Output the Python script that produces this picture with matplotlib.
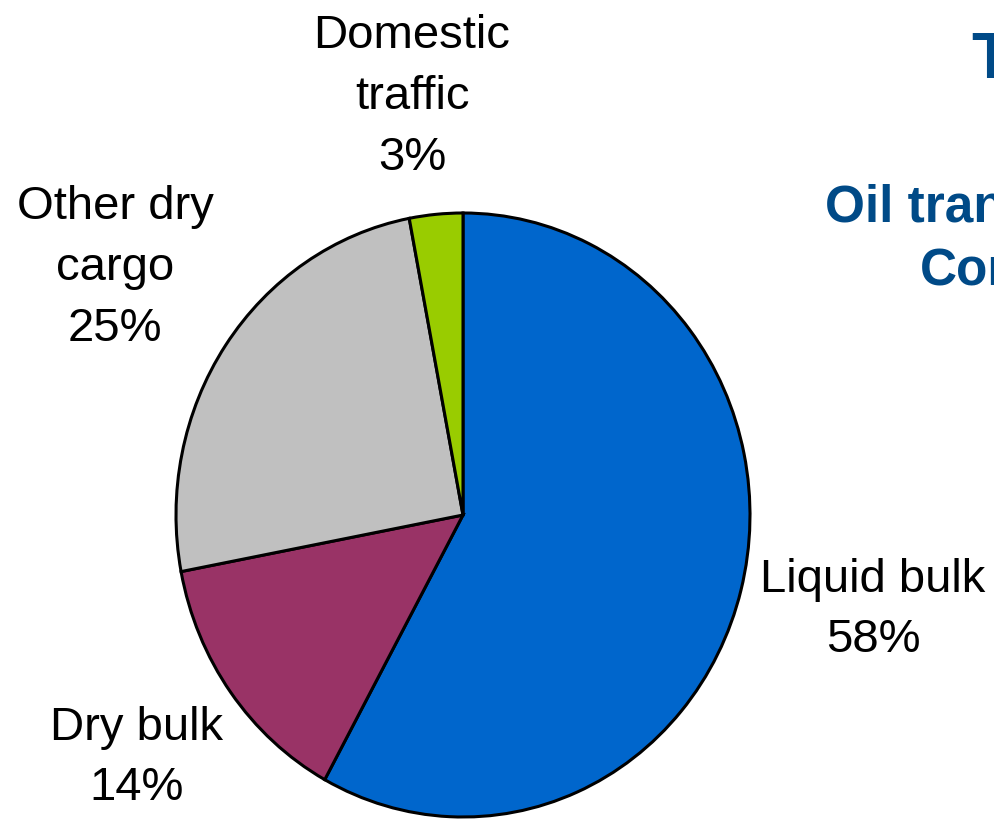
import matplotlib
matplotlib.use("Agg")
import matplotlib.pyplot as plt

# Cargo mix, share of traffic (%), clockwise from 12 o'clock
categories = ["Liquid bulk", "Dry bulk", "Other dry\ncargo", "Domestic\ntraffic"]
shares = [58, 14, 25, 3]
colors = ["#0066CC", "#993366", "#C0C0C0", "#99CC00"]

W, H = 994, 819
plt.rcParams["font.family"] = ["Liberation Sans", "DejaVu Sans"]

fig = plt.figure(figsize=(W / 100, H / 100), dpi=100)
fig.patch.set_facecolor("white")

def px(x, y):
    return x / W, 1 - y / H

# pie occupies a slightly tall ellipse
left, top, right, bottom = 176, 213, 750, 817
ax = fig.add_axes([left / W, (H - bottom) / H, (right - left) / W, (bottom - top) / H])
wedges, _ = ax.pie(shares, colors=colors, startangle=90, counterclock=False,
                   wedgeprops=dict(edgecolor="black", linewidth=2.2))
for w in wedges:
    w.set_clip_on(False)
ax.set_aspect("auto")
ax.set_xlim(-1, 1)
ax.set_ylim(-1, 1)
ax.axis("off")

# slice labels: name + share
label_pos = [(873, 610), (137, 758), (115, 268), (412, 97)]
for name, val, (lx, ly) in zip(categories, shares, label_pos):
    fig.text(*px(lx, ly), f"{name}\n{val}%", ha="center", va="center",
             multialignment="center", fontsize=34, linespacing=1.5, color="black")

# heading on the right
title_color = "#004A87"
fig.text(*px(972, 78), "Traffic structure", ha="left", va="baseline",
         fontsize=46, fontweight="bold", color=title_color)
fig.text(*px(825, 222), "Oil transport", ha="left", va="baseline",
         fontsize=37, fontweight="bold", color=title_color)
fig.text(*px(920, 285), "Company", ha="left", va="baseline",
         fontsize=37, fontweight="bold", color=title_color)

fig.savefig("out.png", dpi=100, facecolor="white")
